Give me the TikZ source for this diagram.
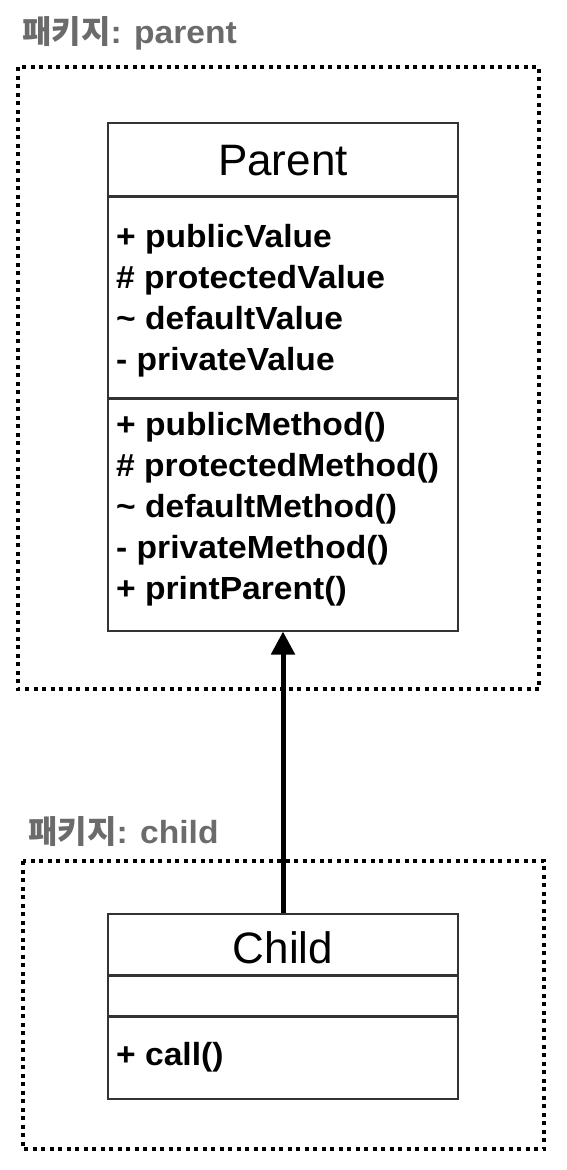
\documentclass[tikz,border=0pt]{standalone}
\usepackage{fontspec}
\setmainfont{Liberation Sans}
\newfontfamily\cjk{Noto Sans CJK KR}
\newfontfamily\widesans{Liberation Sans}[FakeStretch=1.05]
\usetikzlibrary{arrows.meta}
\definecolor{pkggray}{HTML}{6B6B6B}
\definecolor{boxline}{HTML}{333333}
\tikzset{
  pkgframe/.style={draw=black, line width=4pt, dash pattern=on 4pt off 4.5pt},
  pkglabel/.style={anchor=base west, inner sep=0pt, text=pkggray, font=\widesans\fontsize{32}{36}\selectfont\bfseries},
  classbox/.style={draw=boxline, line width=1.5pt, minimum width=350pt, inner sep=0pt, anchor=north},
  classname/.style={anchor=base, inner sep=0pt, font=\fontsize{44}{50}\selectfont},
  member/.style={anchor=base west, inner sep=0pt, font=\widesans\fontsize{32}{41}\selectfont\bfseries},
}
\begin{document}
\begin{tikzpicture}[x=1pt,y=-1pt]
\useasboundingbox (0,0) rectangle (566,1170);

% package parent
\draw[pkgframe] (18,67) rectangle (539,689);
\node[pkglabel] (parentPkg) at (22,43) {{\cjk\bfseries 패키지}: parent};

\node[classbox, minimum height=73pt] (parentHead) at (283,122) {};
\node[classbox, minimum height=200pt] (parentAttrs) at (parentHead.south) {};
\node[classbox, minimum height=232pt] (parentOps) at (parentAttrs.south) {};
\node[classname] (parentTitle) at (283,175) {Parent};
\foreach \txt [count=\i] in {+ publicValue, \# protectedValue, \textasciitilde{} defaultValue, - privateValue}
  \node[member] (attr\i) at (116,{206+41*\i}) {\txt};
\foreach \txt [count=\i] in {+ publicMethod(), \# protectedMethod(), \textasciitilde{} defaultMethod(), - privateMethod(), + printParent()}
  \node[member] (op\i) at (116,{394+41*\i}) {\txt};

% package child
\draw[pkgframe] (23,861) rectangle (544,1149);
\node[pkglabel] (childPkg) at (28,843) {{\cjk\bfseries 패키지}: child};

\node[classbox, minimum height=61pt] (childHead) at (283,913) {};
\node[classbox, minimum height=39pt] (childAttrs) at (childHead.south) {};
\node[classbox, minimum height=82pt] (childOps) at (childAttrs.south) {};
\node[classname] (childTitle) at (283,963) {Child};
\node[member] (call) at (116,1065) {+ call()};

% generalization
\draw[-{Triangle[length=23pt,width=23pt]}, line width=5pt] (childHead.north) -- (parentOps.south);
\end{tikzpicture}
\end{document}
